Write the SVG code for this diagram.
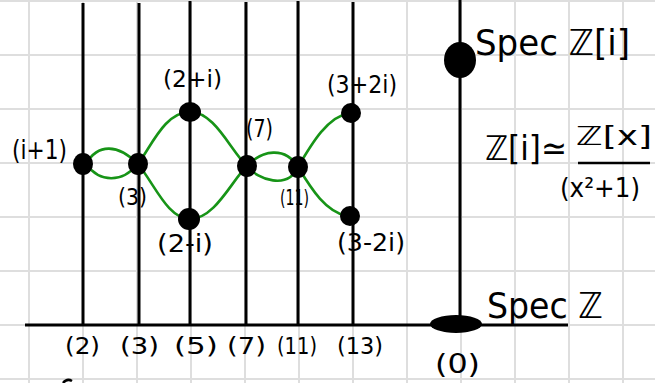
<svg xmlns="http://www.w3.org/2000/svg" width="655" height="383" viewBox="0 0 655 383">
<style>
.grid{stroke:#dedede;stroke-width:2}
.ax{stroke:#000;stroke-width:3;fill:none}
.cv{stroke:#179417;stroke-width:2.6;fill:none}
.dot{fill:#000}
.t{font-family:"DejaVu Sans","Liberation Sans",sans-serif;fill:#000;font-weight:normal}
</style>
<rect width="655" height="383" fill="#fff"/>
<g id="grid">
<path class="grid" d="M29 0V383M83 0V383M137 0V383M191 0V383M245 0V383M299 0V383M353 0V383M407 0V383M461 0V383M515 0V383M569 0V383M623 0V383M0 1H655M0 55H655M0 109H655M0 163H655M0 217H655M0 271H655M0 325H655M0 379H655"/>
</g>
<g id="axes">
<path class="ax" d="M83 3V325M139 3V325M190 1V325M246 2V325M298 1V325M353 2V325M460 0V325M25 325H568"/>
</g>
<g id="connectors">
<path class="cv" d="M86 164 C98 143,118 144,138 164 C155 185,168 219,190 219 C215 219,232 180,247 166 C262 150,285 146,298 167 C312 190,326 212,347 216"/>
<path class="cv" d="M86 164 C100 183,122 183,138 164 C152 145,165 112,190 112 C215 112,230 150,247 166 C258 180,288 190,298 167 C312 143,328 116,350 113"/>
</g>
<g id="n-i1"><ellipse class="dot" cx="83" cy="164" rx="10" ry="11"/><text class="t" x="12" y="159" font-size="27" textLength="55" lengthAdjust="spacingAndGlyphs">(i+1)</text></g>
<g id="n-3"><ellipse class="dot" cx="138" cy="164" rx="10" ry="11"/><text class="t" x="118" y="205" font-size="23" textLength="29" lengthAdjust="spacingAndGlyphs">(3)</text></g>
<g id="n-2pi"><ellipse class="dot" cx="190" cy="112" rx="11" ry="10"/><text class="t" x="163" y="87" font-size="23" textLength="59" lengthAdjust="spacingAndGlyphs">(2+i)</text></g>
<g id="n-2mi"><ellipse class="dot" cx="189" cy="219" rx="11" ry="11"/><text class="t" x="157" y="252" font-size="25" textLength="56" lengthAdjust="spacingAndGlyphs">(2-i)</text></g>
<g id="n-7"><ellipse class="dot" cx="247" cy="166" rx="10" ry="11"/><text class="t" x="246" y="137" font-size="25" textLength="27" lengthAdjust="spacingAndGlyphs">(7)</text></g>
<g id="n-11"><ellipse class="dot" cx="298" cy="167" rx="10" ry="11"/><text class="t" x="280" y="205" font-size="21" textLength="29" lengthAdjust="spacingAndGlyphs">(11)</text></g>
<g id="n-3p2i"><ellipse class="dot" cx="351" cy="113" rx="10" ry="10"/><text class="t" x="327" y="93" font-size="24" textLength="70" lengthAdjust="spacingAndGlyphs">(3+2i)</text></g>
<g id="n-3m2i"><ellipse class="dot" cx="350" cy="216" rx="10" ry="10"/><text class="t" x="337" y="251" font-size="24" textLength="68" lengthAdjust="spacingAndGlyphs">(3-2i)</text></g>
<g id="spec-zi"><ellipse class="dot" cx="460" cy="60" rx="16" ry="18"/><text class="t" x="475" y="55" font-size="36" textLength="155" lengthAdjust="spacingAndGlyphs">Spec ℤ[i]</text></g>
<g id="spec-z"><ellipse class="dot" cx="456" cy="324" rx="26" ry="9"/><text class="t" x="487" y="318" font-size="36" textLength="116" lengthAdjust="spacingAndGlyphs">Spec ℤ</text><text class="t" x="435" y="373" font-size="27" textLength="45" lengthAdjust="spacingAndGlyphs">(0)</text></g>
<g id="iso">
<text class="t" x="485" y="160" font-size="34" textLength="82" lengthAdjust="spacingAndGlyphs">ℤ[i]≃</text>
<text class="t" x="576" y="145" font-size="26" textLength="76" lengthAdjust="spacingAndGlyphs">ℤ[x]</text>
<path d="M578 163H650" stroke="#000" stroke-width="2.5"/>
<text class="t" x="560" y="197" font-size="27" textLength="80" lengthAdjust="spacingAndGlyphs">(x²+1)</text>
</g>
<g id="primes">
<text class="t" x="65" y="354" font-size="23" textLength="35" lengthAdjust="spacingAndGlyphs">(2)</text>
<text class="t" x="120" y="354" font-size="23" textLength="39" lengthAdjust="spacingAndGlyphs">(3)</text>
<text class="t" x="174" y="354" font-size="23" textLength="44" lengthAdjust="spacingAndGlyphs">(5)</text>
<text class="t" x="227" y="354" font-size="23" textLength="39" lengthAdjust="spacingAndGlyphs">(7)</text>
<text class="t" x="277" y="354" font-size="23" textLength="40" lengthAdjust="spacingAndGlyphs">(11)</text>
<text class="t" x="337" y="354" font-size="23" textLength="46" lengthAdjust="spacingAndGlyphs">(13)</text>
</g>
<path d="M63 383 Q67 378 72 381" stroke="#000" stroke-width="2.5" fill="none"/>
</svg>
